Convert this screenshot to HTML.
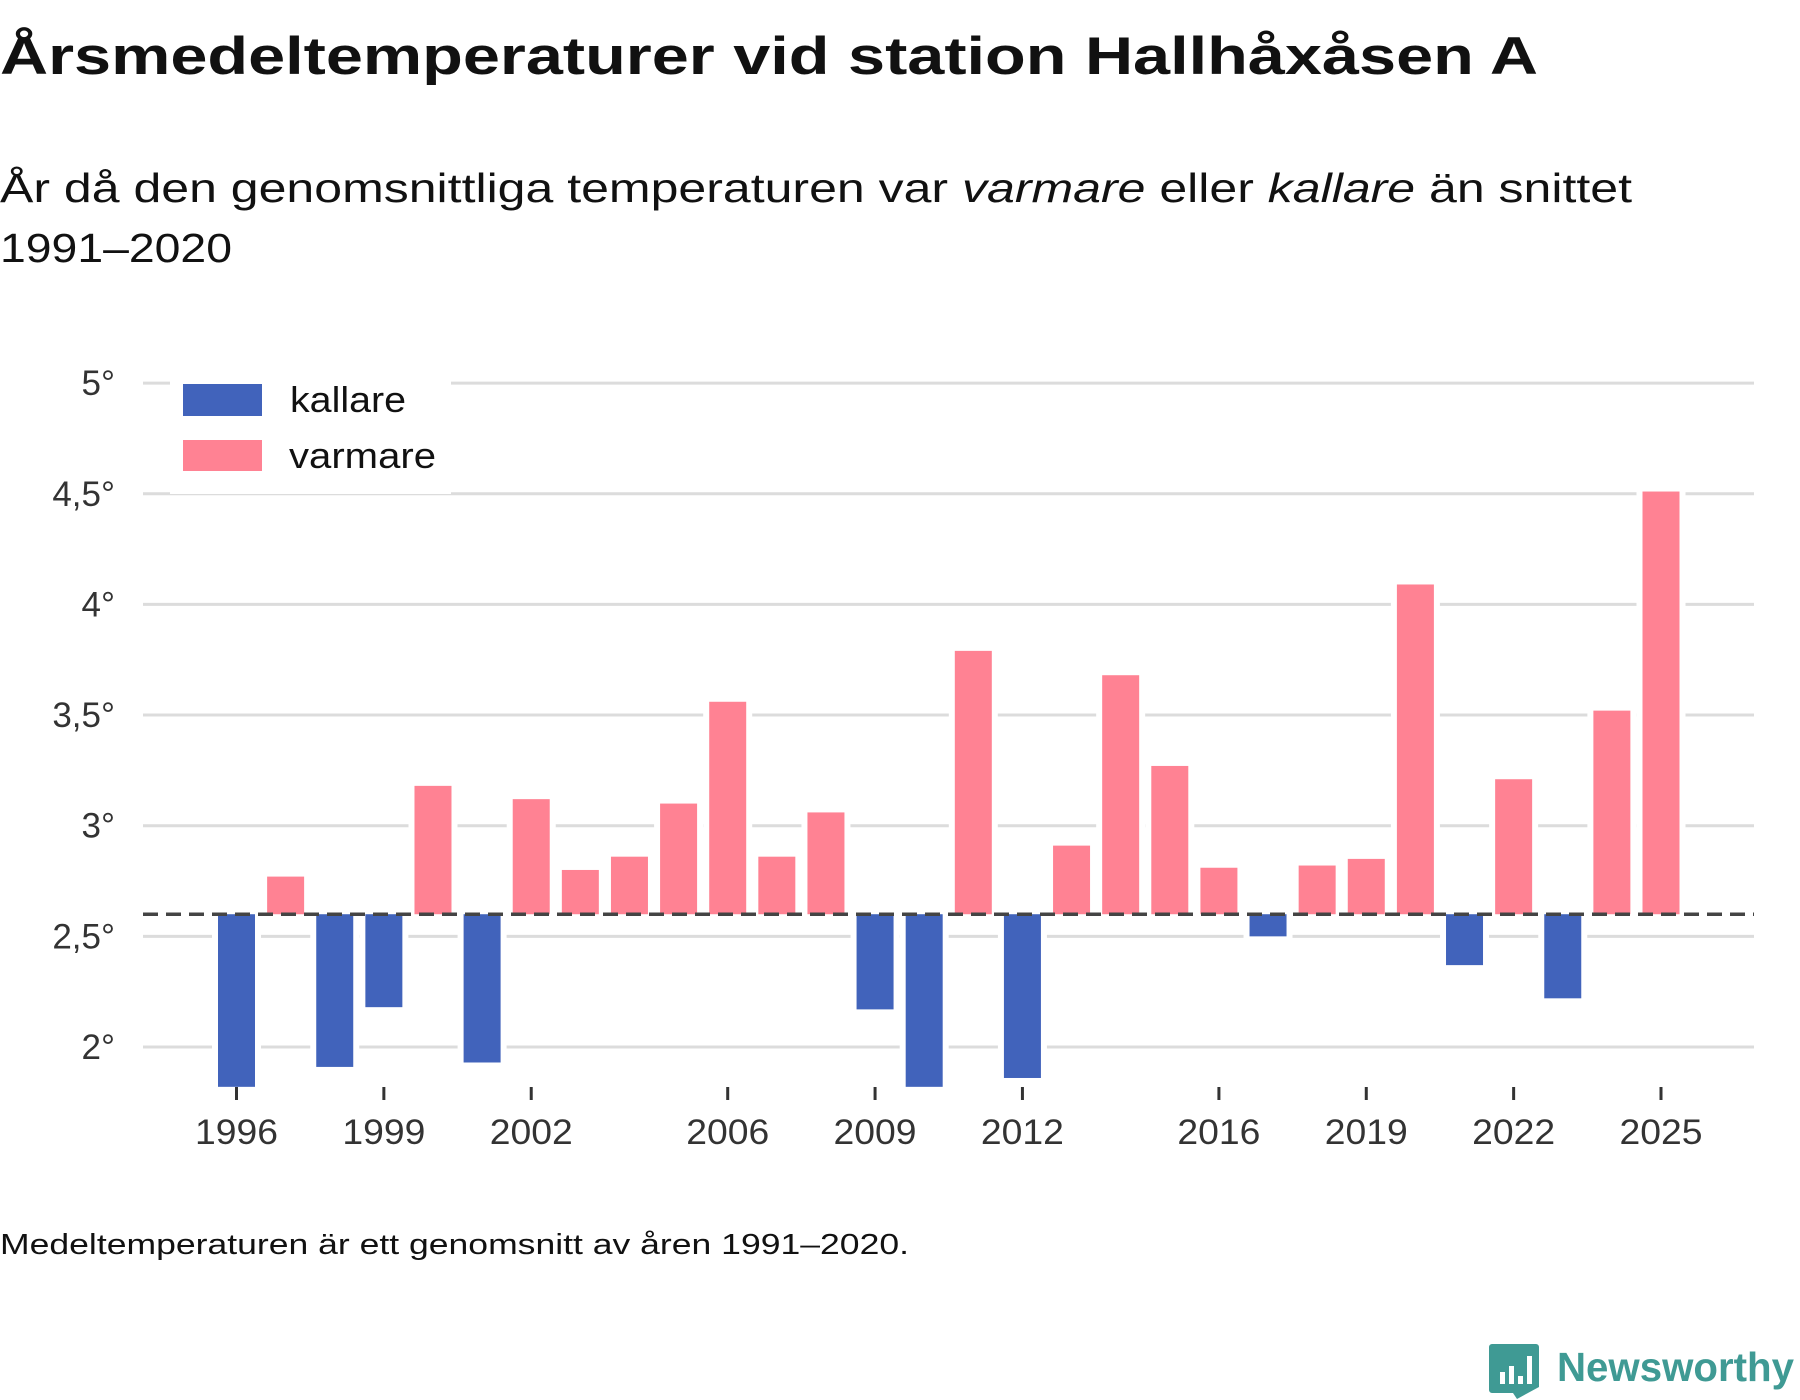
<!DOCTYPE html>
<html><head><meta charset="utf-8"><style>
html,body{margin:0;padding:0;background:#fff;}
svg{display:block;font-family:"Liberation Sans",sans-serif;}
</style></head><body>
<svg id="chart" width="1800" height="1400" viewBox="0 0 1800 1400" xmlns="http://www.w3.org/2000/svg">
<text x="0" y="74" font-size="53" font-weight="bold" fill="#111" textLength="1538" lengthAdjust="spacingAndGlyphs">Årsmedeltemperaturer vid station Hallhåxåsen A</text>
<text x="0" y="202" font-size="41" fill="#111" textLength="1632" lengthAdjust="spacingAndGlyphs">År då den genomsnittliga temperaturen var <tspan font-style="italic">varmare</tspan> eller <tspan font-style="italic">kallare</tspan> än snittet</text>
<text x="0" y="262" font-size="41" fill="#111" textLength="232" lengthAdjust="spacingAndGlyphs">1991–2020</text>
<g id="grid"></g>
<g id="bars"></g>
<g id="axes"></g>
<g>
<rect x="170" y="379" width="281" height="115" fill="#fff"/>
<rect x="183" y="384" width="79" height="32" fill="#4163bb"/>
<text x="290" y="412" font-size="36" fill="#111" textLength="116" lengthAdjust="spacingAndGlyphs">kallare</text>
<rect x="183" y="440" width="79" height="31" fill="#ff8293"/>
<text x="289" y="468" font-size="36" fill="#111" textLength="147" lengthAdjust="spacingAndGlyphs">varmare</text>
</g>
<text x="0" y="1254" font-size="29" fill="#111" textLength="909" lengthAdjust="spacingAndGlyphs">Medeltemperaturen är ett genomsnitt av åren 1991–2020.</text>
<g>
<path d="M1492 1344 h44 a3 3 0 0 1 3 3 v40 l-22 12 l-4 -6 h-21 a3 3 0 0 1 -3 -3 v-43 a3 3 0 0 1 3 -3z" fill="#3f9a94"/>
<rect x="1500" y="1372" width="5" height="12" fill="#fff"/>
<rect x="1509" y="1366" width="5" height="18" fill="#fff"/>
<rect x="1518" y="1376" width="5" height="8" fill="#fff"/>
<rect x="1527" y="1356" width="5" height="28" fill="#fff"/>
<text x="1557" y="1381" font-size="41" font-weight="bold" fill="#3f9a94" textLength="237" lengthAdjust="spacingAndGlyphs">Newsworthy</text>
</g>
</svg>
<script>
const years=[1996,1997,1998,1999,2000,2001,2002,2003,2004,2005,2006,2007,2008,2009,2010,2011,2012,2013,2014,2015,2016,2017,2018,2019,2020,2021,2022,2023,2024,2025];
const temps=[1.82,2.77,1.91,2.18,3.18,1.93,3.12,2.80,2.86,3.10,3.56,2.86,3.06,2.17,1.82,3.79,1.86,2.91,3.68,3.27,2.81,2.50,2.82,2.85,4.09,2.37,3.21,2.22,3.52,4.51];
const baseline=2.6;
const yTicks=[2,2.5,3,3.5,4,4.5,5];
const yTickLabels=["2°","2,5°","3°","3,5°","4°","4,5°","5°"];
const xTicks=[1996,1999,2002,2006,2009,2012,2016,2019,2022,2025];
const NS="http://www.w3.org/2000/svg";
const x=v=>236.5+(v-1996)*(1661-236.5)/29;
const y=v=>1047-(v-2)*221.3;
function mk(t,a,p){const e=document.createElementNS(NS,t);for(const k in a)e.setAttribute(k,a[k]);p.appendChild(e);return e;}
const grid=document.getElementById('grid'),bars=document.getElementById('bars'),axes=document.getElementById('axes');
yTicks.forEach((t,i)=>{
 const l=mk('line',{x1:143,x2:1754,y1:y(t),y2:y(t),stroke:'#dcdcdc','stroke-width':3},grid);
 
 
 const tx=mk('text',{x:115,y:y(t)+12,'text-anchor':'end','font-size':35,fill:'#333'},axes);
 tx.textContent=yTickLabels[i];
 
 
});
years.forEach((yr,i)=>{
 const v=temps[i];const top=y(Math.max(v,baseline)),bot=y(Math.min(v,baseline));
 const r=mk('rect',{x:x(yr)-18.5,y:top,width:37,height:bot-top,fill:v>=baseline?'#ff8293':'#4163bb',stroke:'#fff','stroke-width':12,'paint-order':'stroke'},bars);
 
 
});
const bl=mk('line',{x1:143,x2:1754,y1:y(baseline),y2:y(baseline),stroke:'#444','stroke-width':3.5,'stroke-dasharray':'15,8'},axes);


xTicks.forEach(t=>{
 const l=mk('line',{x1:x(t),x2:x(t),y1:1087,y2:1100,stroke:'#333','stroke-width':3},axes);
 
 
 const tx=mk('text',{x:x(t),y:1144,'text-anchor':'middle','font-size':35,fill:'#333',textLength:83,lengthAdjust:'spacingAndGlyphs'},axes);
 tx.textContent=t;
 
 
});
</script>
</body></html>
